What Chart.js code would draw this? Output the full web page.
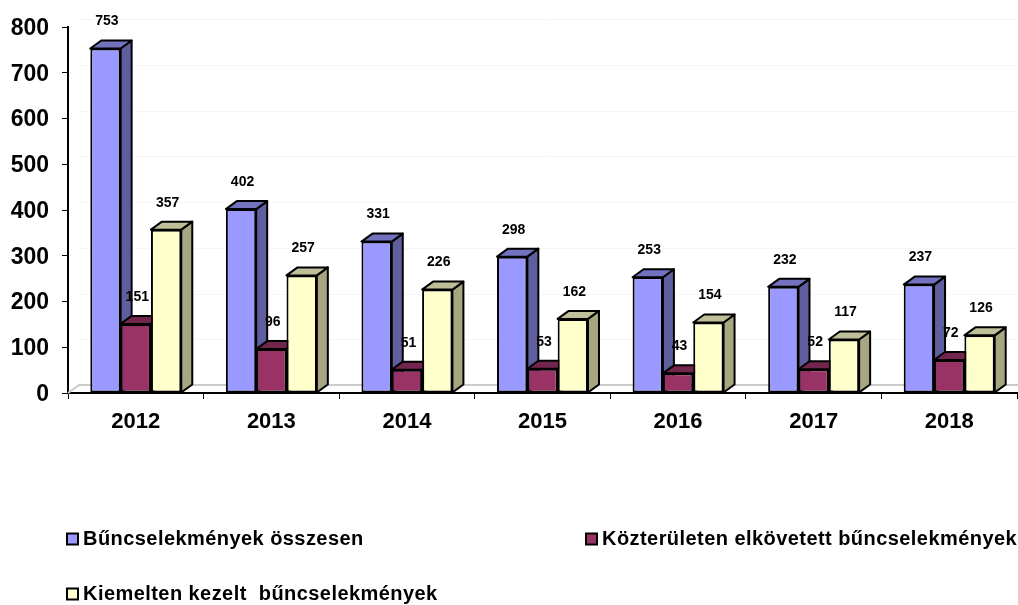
<!DOCTYPE html>
<html>
<head>
<meta charset="utf-8">
<style>
  body { margin: 0; background: #fff; }
  canvas { display: block; }
</style>
<script src="https://cdn.jsdelivr.net/npm/chart.js@4/dist/chart.umd.js"></script>
</head>
<body>
<canvas id="crimeChart" width="1018" height="605"></canvas>
<script>
const years = ["2012", "2013", "2014", "2015", "2016", "2017", "2018"];
const total = [753, 402, 331, 298, 253, 232, 237];
const publicPlace = [151, 96, 51, 53, 43, 52, 72];
const priority = [357, 257, 226, 162, 154, 117, 126];

const seriesNames = [
  "Bűncselekmények összesen",
  "Közterületen elkövetett bűncselekmények",
  "Kiemelten kezelt  bűncselekmények",
];
const frontColors = ["#9999FF", "#993366", "#FFFFCC"];
const sideColors = ["#5F5FA0", "#602040", "#A6A680"];
const topColors = ["#7272BF", "#73264D", "#BFBF99"];

const DEPTH_X = 11;
const DEPTH_Y = 8;
const FONT = '"Liberation Sans", Arial, sans-serif';

// fake 3d: floor, wall lines, then side and top faces. Chart.js draws the fronts after this
const depthFaces = {
  id: "depthFaces",
  beforeDatasetsDraw(chart) {
    const { ctx, chartArea, scales } = chart;
    ctx.save();
    ctx.strokeStyle = "#F6F6F6";
    ctx.lineWidth = 1;
    scales.y.ticks.forEach((t) => {
      if (t.value === 0) return;
      const y = Math.round(scales.y.getPixelForValue(t.value)) - DEPTH_Y + 0.5;
      ctx.beginPath();
      ctx.moveTo(chartArea.left + DEPTH_X, y);
      ctx.lineTo(chartArea.right + 1, y);
      ctx.stroke();
    });
    ctx.strokeStyle = "#CCCCCC";
    ctx.lineWidth = 2;
    ctx.beginPath();
    ctx.moveTo(chartArea.left, chartArea.bottom);
    ctx.lineTo(chartArea.left + DEPTH_X, chartArea.bottom - DEPTH_Y);
    ctx.lineTo(chartArea.right + 1, chartArea.bottom - DEPTH_Y);
    ctx.stroke();

    ctx.strokeStyle = "#000";
    ctx.lineWidth = 2;
    ctx.lineJoin = "round";
    for (let j = 0; j < years.length; j++) {
      chart.data.datasets.forEach((ds, i) => {
        const bar = chart.getDatasetMeta(i).data[j];
        const l = bar.x - bar.width / 2;
        const r = bar.x + bar.width / 2;
        const t = bar.y;
        const b = bar.base;
        ctx.fillStyle = sideColors[i];
        ctx.beginPath();
        ctx.moveTo(r, t);
        ctx.lineTo(r + DEPTH_X, t - DEPTH_Y);
        ctx.lineTo(r + DEPTH_X, b - DEPTH_Y);
        ctx.lineTo(r, b);
        ctx.closePath();
        ctx.fill();
        ctx.stroke();
        ctx.fillStyle = topColors[i];
        ctx.beginPath();
        ctx.moveTo(l, t);
        ctx.lineTo(l + DEPTH_X, t - DEPTH_Y);
        ctx.lineTo(r + DEPTH_X, t - DEPTH_Y);
        ctx.lineTo(r, t);
        ctx.closePath();
        ctx.fill();
        ctx.stroke();
      });
    }
    ctx.restore();
  },
  afterDatasetsDraw(chart) {
    const { ctx } = chart;
    ctx.save();
    ctx.fillStyle = "#000";
    ctx.font = "bold 14px " + FONT;
    ctx.textAlign = "center";
    ctx.textBaseline = "middle";
    chart.data.datasets.forEach((ds, i) => {
      chart.getDatasetMeta(i).data.forEach((bar, j) => {
        ctx.fillText(ds.data[j], bar.x + 1.5, bar.y - 27);
      });
    });
    ctx.restore();
  },
};

const legendSpots = [
  { x: 67, y: 539 },
  { x: 586, y: 539 },
  { x: 67, y: 594 },
];

const cornerLegend = {
  id: "cornerLegend",
  afterDraw(chart) {
    const { ctx } = chart;
    ctx.save();
    ctx.font = "bold 20px " + FONT;
    ctx.letterSpacing = "0.44px";
    ctx.textBaseline = "middle";
    seriesNames.forEach((name, i) => {
      const spot = legendSpots[i];
      ctx.fillStyle = frontColors[i];
      ctx.strokeStyle = "#000";
      ctx.lineWidth = 2;
      ctx.fillRect(spot.x, spot.y - 5.5, 11, 11);
      ctx.strokeRect(spot.x, spot.y - 5.5, 11, 11);
      ctx.fillStyle = "#000";
      ctx.fillText(name, spot.x + 16, spot.y);
    });
    ctx.restore();
  },
};

new Chart(document.getElementById("crimeChart"), {
  type: "bar",
  data: {
    labels: years,
    datasets: [total, publicPlace, priority].map((values, i) => ({
      label: seriesNames[i],
      data: values,
      backgroundColor: frontColors[i],
      borderColor: "#000",
      borderWidth: 2,
      borderSkipped: false,
      categoryPercentage: 0.671,
      barPercentage: 1,
    })),
  },
  options: {
    responsive: false,
    animation: false,
    layout: { padding: { top: 27, right: 1, left: 0, bottom: 0 } },
    plugins: { legend: { display: false }, tooltip: { enabled: false } },
    scales: {
      x: {
        afterFit: (scale) => {
          scale.height = 212;
        },
        grid: { drawOnChartArea: false, color: "#000", tickLength: 6, offset: true },
        border: { color: "#000", width: 2 },
        ticks: { color: "#000", maxRotation: 0, font: { family: FONT, size: 22, weight: "bold" }, padding: 10 },
      },
      y: {
        min: 0,
        max: 800,
        afterFit: (scale) => {
          scale.width = 68;
        },
        grid: { drawOnChartArea: false, color: "#000", tickLength: 6 },
        border: { color: "#000", width: 2 },
        ticks: { stepSize: 100, color: "#000", font: { family: FONT, size: 23, weight: "bold" }, padding: 13, labelOffset: 1.5 },
      },
    },
  },
  plugins: [depthFaces, cornerLegend],
});
</script>
</body>
</html>
